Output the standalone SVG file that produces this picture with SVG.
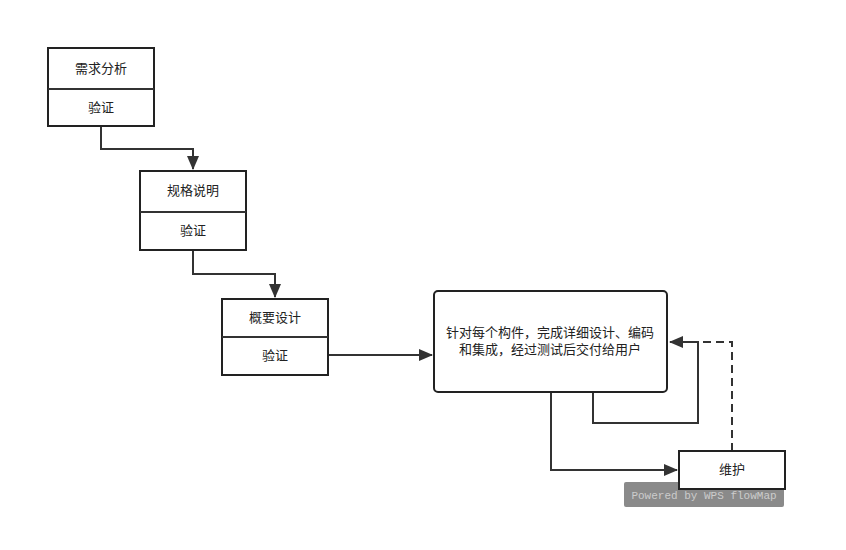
<svg xmlns="http://www.w3.org/2000/svg" width="846" height="550" viewBox="0 0 846 550">
<style>
.b{fill:#fff;stroke:#222;stroke-width:2}
.t{font-family:"Liberation Sans","Noto Sans CJK SC",sans-serif;font-size:13px;fill:#222;text-anchor:middle}
.c{fill:none;stroke:#333;stroke-width:2}
</style>
<defs><marker id="a" markerWidth="10" markerHeight="10" refX="9" refY="5" orient="auto" markerUnits="userSpaceOnUse"><path d="M0,0L10,5L0,10z" fill="#333"/></marker>
<marker id="a2" markerWidth="14" markerHeight="12" refX="13" refY="6" orient="auto" markerUnits="userSpaceOnUse"><path d="M0,0L14,6L0,12z" fill="#333"/></marker></defs>
<rect width="846" height="550" fill="#fff"/>
<g id="connectors">
<path class="c" d="M101,126V149H193V169" marker-end="url(#a2)"/>
<path class="c" d="M193,250V274H275V297" marker-end="url(#a2)"/>
<path class="c" d="M328,355H432" marker-end="url(#a2)"/>
<path class="c" d="M551,392V470H677" marker-end="url(#a2)"/>
<path class="c" d="M593,392V423H698V342H670" marker-end="url(#a2)"/>
<path class="c" d="M732,451V342H700" stroke-dasharray="8,5"/>
</g>
<g id="n1"><rect class="b" x="48" y="48" width="106" height="78"/><line class="c" x1="48" y1="89" x2="154" y2="89"/><text class="t" x="101" y="73">需求分析</text><text class="t" x="101" y="112">验证</text></g>
<g id="n2"><rect class="b" x="140" y="171" width="106" height="79"/><line class="c" x1="140" y1="212" x2="246" y2="212"/><text class="t" x="193" y="195">规格说明</text><text class="t" x="193" y="235">验证</text></g>
<g id="n3"><rect class="b" x="222" y="299" width="106" height="76"/><line class="c" x1="222" y1="337" x2="328" y2="337"/><text class="t" x="275" y="322">概要设计</text><text class="t" x="275" y="360">验证</text></g>
<g id="n4"><rect class="b" x="434" y="291" width="233" height="101" rx="4"/><text class="t" x="550" y="337">针对每个构件，完成详细设计、编码</text><text class="t" x="550" y="354">和集成，经过测试后交付给用户</text></g>
<g id="wm"><rect x="624" y="482" width="160" height="25" rx="2" fill="#8a8a8a"/><text x="704" y="499" font-family="Liberation Mono,monospace" font-size="11" fill="#ccc" text-anchor="middle">Powered by WPS flowMap</text></g>
<g id="n5"><rect class="b" x="679" y="451" width="106" height="38"/><text class="t" x="732" y="474">维护</text></g>
</svg>
